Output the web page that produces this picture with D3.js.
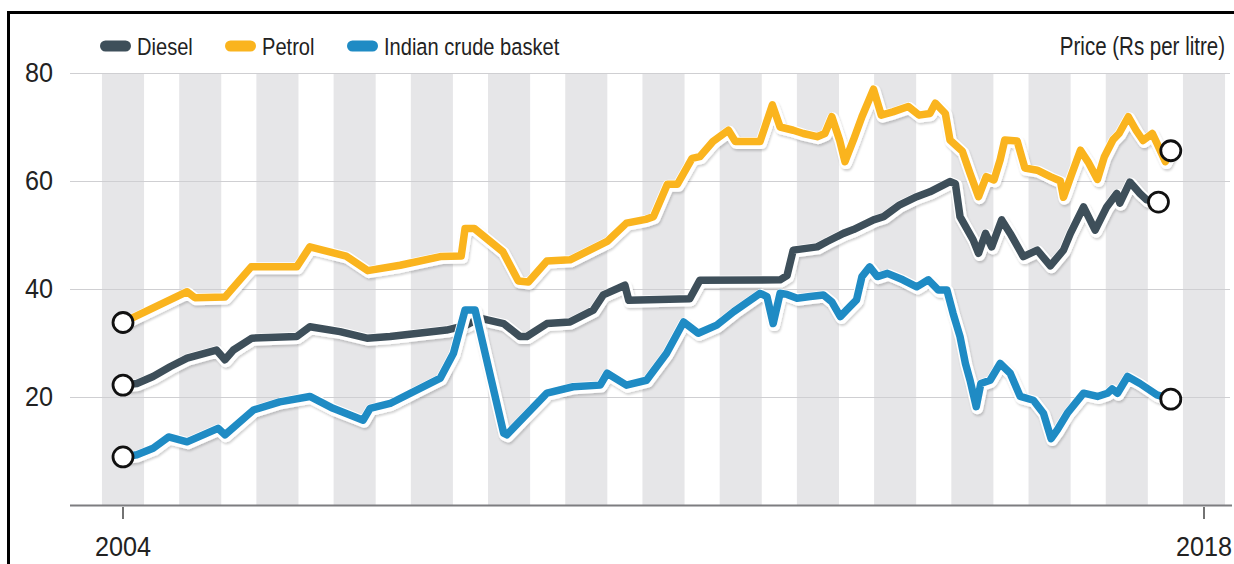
<!DOCTYPE html>
<html>
<head>
<meta charset="utf-8">
<script src="https://cdn.jsdelivr.net/npm/d3@7"></script>
<style>
    body { margin: 0; background: #fff; }
    svg text { font-family: "Liberation Sans", Arial, sans-serif; fill: #222; }
</style>
</head>
<body>
<svg id="chart" width="1234" height="564"></svg>
<script>
// Prices in Rs per litre (decimal year, value)
const diesel = [
    [2004.00, 22.2], [2004.18, 22.5], [2004.39, 23.8], [2004.61, 25.6], [2004.83, 27.2], [2005.21, 28.7],
    [2005.32, 26.9], [2005.43, 28.7], [2005.67, 30.9], [2006.25, 31.2], [2006.42, 33.0], [2006.81, 32.1],
    [2007.16, 30.9], [2007.46, 31.2], [2008.19, 32.4], [2008.43, 33.2], [2008.62, 34.6], [2008.93, 33.6],
    [2009.14, 31.2], [2009.23, 31.2], [2009.49, 33.6], [2009.79, 33.9], [2010.09, 36.1], [2010.22, 38.9],
    [2010.50, 40.7], [2010.55, 37.9], [2011.34, 38.2], [2011.47, 41.6], [2012.51, 41.7], [2012.60, 42.5],
    [2012.68, 47.2], [2012.99, 47.8], [2013.12, 48.8], [2013.33, 50.3], [2013.46, 51.0], [2013.72, 52.8],
    [2013.85, 53.4], [2014.06, 55.6], [2014.28, 57.1], [2014.45, 58.0], [2014.71, 59.9], [2014.78, 59.5],
    [2014.84, 53.4], [2015.01, 49.1], [2015.08, 46.6], [2015.17, 50.3], [2015.25, 47.8], [2015.38, 52.8],
    [2015.49, 50.3], [2015.66, 46.0], [2015.84, 47.2], [2016.01, 44.3], [2016.18, 47.2], [2016.27, 50.3],
    [2016.44, 55.2], [2016.59, 50.9], [2016.74, 55.2], [2016.87, 57.7], [2016.91, 55.9], [2017.04, 59.8],
    [2017.17, 57.7], [2017.26, 56.5], [2017.41, 56.1]
];
const petrol = [
    [2004.00, 33.8], [2004.83, 39.5], [2004.93, 38.4], [2005.32, 38.5], [2005.66, 44.1], [2006.25, 44.1],
    [2006.42, 47.8], [2006.89, 46.1], [2007.17, 43.4], [2007.59, 44.4], [2008.11, 46.0], [2008.38, 46.1],
    [2008.43, 51.2], [2008.55, 51.2], [2008.92, 46.9], [2009.12, 41.5], [2009.25, 41.3], [2009.49, 45.2],
    [2009.79, 45.4], [2010.27, 48.8], [2010.52, 52.2], [2010.77, 52.9], [2010.87, 53.4], [2011.05, 59.4],
    [2011.18, 59.4], [2011.37, 64.2], [2011.47, 64.5], [2011.64, 67.3], [2011.84, 69.4], [2011.93, 67.3],
    [2012.25, 67.3], [2012.41, 74.1], [2012.51, 70.0], [2012.68, 69.4], [2012.81, 68.8], [2012.99, 68.2],
    [2013.09, 68.8], [2013.18, 71.9], [2013.28, 67.6], [2013.35, 63.6], [2013.46, 67.6], [2013.57, 71.9],
    [2013.72, 77.0], [2013.82, 72.2], [2013.97, 72.8], [2014.17, 73.8], [2014.31, 72.2], [2014.45, 72.5],
    [2014.52, 74.4], [2014.65, 72.5], [2014.71, 67.6], [2014.87, 65.5], [2014.97, 61.4], [2015.08, 57.1],
    [2015.18, 60.8], [2015.28, 60.2], [2015.36, 63.9], [2015.42, 67.6], [2015.58, 67.4], [2015.68, 62.4],
    [2015.84, 62.0], [2016.01, 60.8], [2016.14, 60.0], [2016.18, 57.0], [2016.28, 61.0], [2016.40, 65.7],
    [2016.50, 63.5], [2016.62, 60.3], [2016.71, 64.5], [2016.82, 67.6], [2016.90, 68.8], [2017.02, 71.9],
    [2017.12, 69.4], [2017.21, 67.5], [2017.33, 68.8], [2017.39, 67.0], [2017.50, 63.6], [2017.57, 65.6]
];
const crude = [
    [2004.00, 8.9], [2004.18, 9.3], [2004.39, 10.5], [2004.59, 12.6], [2004.83, 11.7], [2005.23, 14.2],
    [2005.32, 13.0], [2005.69, 17.6], [2006.03, 19.1], [2006.42, 20.1], [2006.72, 17.9], [2007.11, 15.7],
    [2007.20, 17.9], [2007.46, 18.8], [2008.11, 23.5], [2008.28, 28.1], [2008.43, 36.1], [2008.56, 36.1],
    [2008.93, 13.3], [2008.97, 13.0], [2009.49, 20.7], [2009.83, 21.9], [2010.18, 22.2], [2010.27, 24.4],
    [2010.52, 22.2], [2010.78, 23.1], [2011.04, 28.1], [2011.26, 33.9], [2011.45, 31.8], [2011.69, 33.3],
    [2011.91, 35.8], [2012.25, 39.2], [2012.34, 38.6], [2012.42, 33.6], [2012.51, 39.2], [2012.60, 39.0],
    [2012.73, 38.3], [2012.90, 38.6], [2013.07, 38.9], [2013.18, 37.6], [2013.29, 34.9], [2013.37, 36.1],
    [2013.50, 38.0], [2013.57, 42.3], [2013.67, 44.1], [2013.77, 42.3], [2013.90, 42.9], [2014.10, 41.7],
    [2014.28, 40.4], [2014.43, 41.7], [2014.56, 39.8], [2014.67, 39.8], [2014.75, 35.5], [2014.84, 31.2],
    [2014.91, 26.2], [2014.97, 23.1], [2015.05, 18.2], [2015.11, 22.5], [2015.23, 23.1], [2015.36, 26.2],
    [2015.49, 24.4], [2015.62, 20.1], [2015.79, 19.4], [2015.92, 17.0], [2016.02, 12.3], [2016.10, 13.9],
    [2016.23, 17.0], [2016.44, 20.7], [2016.62, 20.1], [2016.75, 20.7], [2016.81, 21.5], [2016.88, 20.7],
    [2017.01, 23.8], [2017.17, 22.5], [2017.39, 20.4], [2017.57, 19.6]
];

const yTicks = [20, 40, 60, 80];
const xTicks = [2004, 2018];
const stripeYears = d3.range(2004, 2019);

const series = [
    { name: 'Diesel', color: '#3e4f5a', values: diesel },
    { name: 'Petrol', color: '#fab41e', values: petrol },
    { name: 'Indian crude basket', color: '#1f8bc4', values: crude },
];

const svg = d3.select('#chart');

var x = d3.scaleLinear().domain([2004, 2018]).range([123, 1204]);
var y = d3.scaleLinear().domain([0, 80]).range([505, 73]);

// no condensed face installed, so squeeze a regular one horizontally
function narrow(sx) {
    return (d, i, nodes) => {
        var t = d3.select(nodes[i]);
        return 'translate(' + t.attr('data-x') + ',' + t.attr('data-y') + ') scale(' + sx + ',1)';
    };
}

// frame (runs off the picture on right and bottom)
svg.append('rect')
    .attr('x', 8.5).attr('y', 12.5)
    .attr('width', 1260).attr('height', 600)
    .attr('fill', 'none').attr('stroke', '#000').attr('stroke-width', 3);

// shadow filter for the lines
var defs = svg.append('defs');
defs.append('filter').attr('id', 'shadow')
    .attr('x', '-5%').attr('y', '-20%').attr('width', '110%').attr('height', '140%')
    .append('feDropShadow')
    .attr('dx', 1).attr('dy', 2).attr('stdDeviation', 1.2)
    .attr('flood-color', '#000').attr('flood-opacity', 0.18);

// alternating grey bands, one centred on each year
var half = (x(2004.545) - x(2004)) / 2;
svg.append('g')
    .selectAll('rect')
    .data(stripeYears)
    .join('rect')
    .attr('x', (d) => x(d) - half)
    .attr('y', y(80))
    .attr('width', half * 2)
    .attr('height', y(0) - y(80))
    .attr('fill', '#e6e6e8');

// gridlines
svg.append('g')
    .selectAll('line')
    .data(yTicks)
    .join('line')
    .attr('x1', 70).attr('x2', 1230)
    .attr('y1', (d) => y(d) + 0.5).attr('y2', (d) => y(d) + 0.5)
    .attr('stroke', '#cfcfd2').attr('stroke-width', 1);

// y labels
svg.append('g')
    .selectAll('text')
    .data(yTicks)
    .join('text')
    .attr('data-x', 53)
    .attr('data-y', (d) => y(d) - 1)
    .attr('transform', narrow(0.9))
    .attr('dy', '0.36em')
    .attr('text-anchor', 'end')
    .style('font-size', '28px')
    .text((d) => d);

// baseline + year ticks
svg.append('line')
    .attr('x1', 70).attr('x2', 1232)
    .attr('y1', y(0) + 0.5).attr('y2', y(0) + 0.5)
    .attr('stroke', '#7d7d80').attr('stroke-width', 2);

var xg = svg.append('g').selectAll('g').data(xTicks).join('g')
    .attr('transform', (d) => 'translate(' + x(d) + ',0)');
xg.append('line')
    .attr('y1', y(0) + 2).attr('y2', y(0) + 14)
    .attr('stroke', '#444').attr('stroke-width', 1.5);
xg.append('text')
    .attr('data-x', 0).attr('data-y', 556)
    .attr('transform', narrow(0.9))
    .attr('text-anchor', 'middle')
    .style('font-size', '28px')
    .text((d) => d);

// lines
var line = d3.line().x((d) => x(d[0])).y((d) => y(d[1])).curve(d3.curveLinear);

var lg = svg.append('g').selectAll('g').data(series).join('g');
lg.append('path')
    .attr('d', (d) => line(d.values))
    .attr('fill', 'none')
    .attr('stroke', '#fff')
    .attr('stroke-width', 12)
    .attr('stroke-linejoin', 'round')
    .attr('transform', 'translate(1,1.5)')
    .attr('filter', 'url(#shadow)');
lg.append('path')
    .attr('d', (d) => line(d.values))
    .attr('fill', 'none')
    .attr('stroke', (d) => d.color)
    .attr('stroke-width', 7.5)
    .attr('stroke-linejoin', 'round')
    .attr('stroke-linecap', 'round');

// open circles at the start and end of each series
var ends = series.flatMap((s) => [s.values[0], s.values[s.values.length - 1]]);
svg.append('g')
    .selectAll('circle')
    .data(ends)
    .join('circle')
    .attr('cx', (d) => x(d[0]))
    .attr('cy', (d) => y(d[1]))
    .attr('r', 10)
    .attr('fill', '#fff')
    .attr('stroke', '#111')
    .attr('stroke-width', 2.8);

// legend
const legendX = [100, 225, 347];
var leg = svg.append('g').selectAll('g').data(series).join('g')
    .attr('transform', (d, i) => 'translate(' + legendX[i] + ',46)');
leg.append('rect')
    .attr('x', 0).attr('y', -5.5)
    .attr('width', 31).attr('height', 11).attr('rx', 5.5)
    .attr('fill', (d) => d.color);
leg.append('text')
    .attr('data-x', 37).attr('data-y', 9)
    .attr('transform', narrow(0.82))
    .style('font-size', '24.5px')
    .text((d) => d.name);

svg.append('text')
    .attr('data-x', 1225).attr('data-y', 55)
    .attr('transform', narrow(0.82))
    .attr('text-anchor', 'end')
    .style('font-size', '25px')
    .text('Price (Rs per litre)');
</script>
</body>
</html>
